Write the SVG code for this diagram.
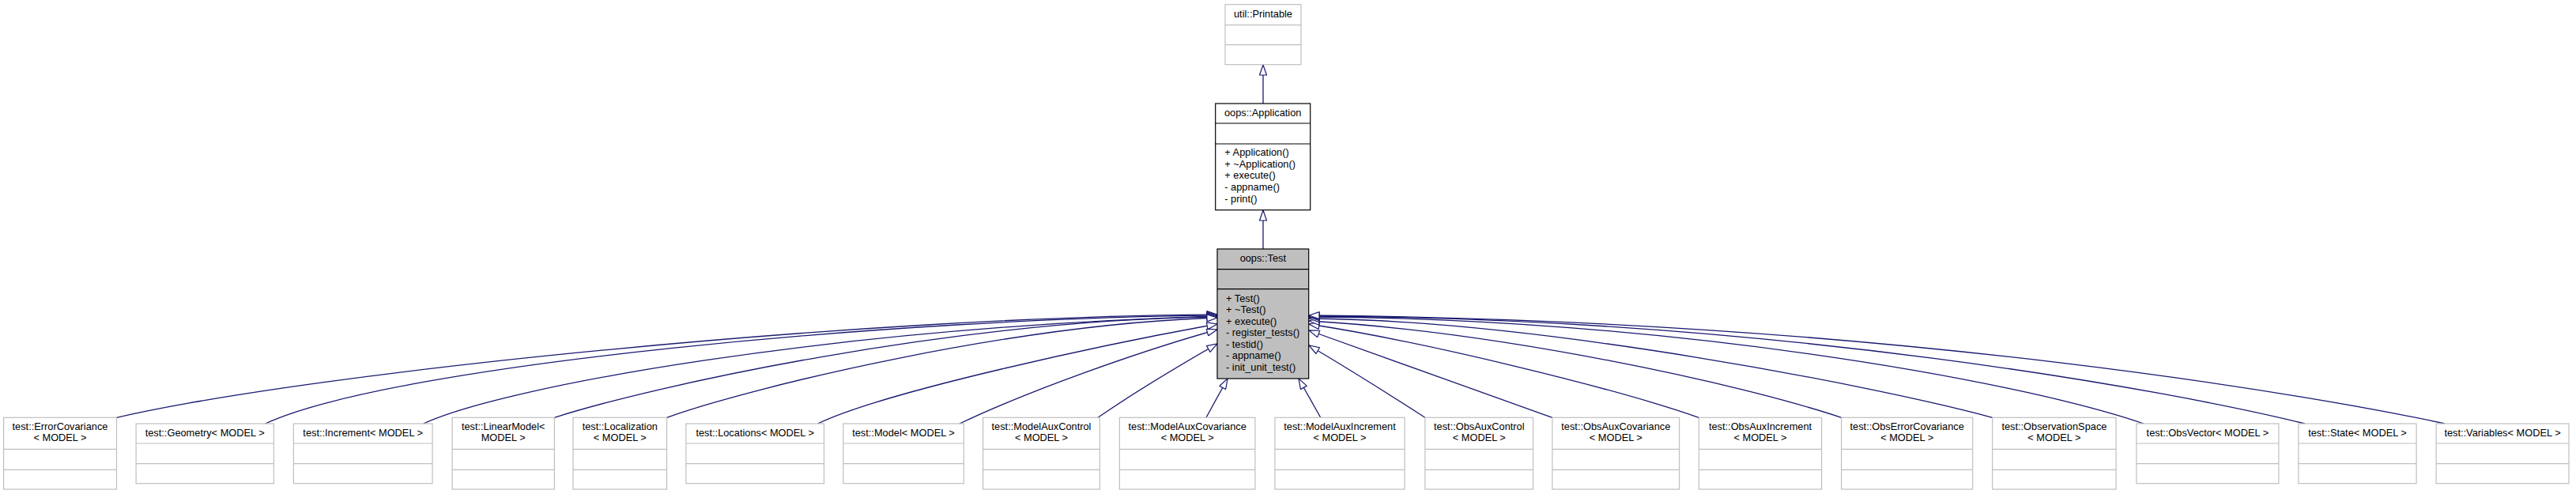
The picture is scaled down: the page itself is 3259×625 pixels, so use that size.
<svg xmlns="http://www.w3.org/2000/svg" width="3259" height="625" viewBox="0 0 3259 625">
<style>
text{font-family:"Liberation Sans",Arial,sans-serif;font-size:12.8px;fill:#000}
.t{text-anchor:middle}
.g{fill:#fff;stroke:#bfbfbf;stroke-width:1.2}
.gl{stroke:#bfbfbf;stroke-width:1.2}
.b{fill:#fff;stroke:#000;stroke-width:1.2}
.bl{stroke:#000;stroke-width:1.2}
.tst{fill:#bfbfbf;stroke:#000;stroke-width:1.2}
.e{fill:none;stroke:#191970;stroke-width:1.3;marker-end:url(#inh)}
</style>
<defs>
<marker id="inh" viewBox="0 0 15 10" refX="14" refY="5" markerWidth="15" markerHeight="10" markerUnits="userSpaceOnUse" orient="auto">
<path d="M1,0.5 L14,5 L1,9.5 Z" fill="#fff" stroke="#191970" stroke-width="1.2"/>
</marker>
</defs>
<rect x="0" y="0" width="3259" height="625" fill="#fff"/>

<g id="connectors">
<path class="e" d="M1598,131 L1598,82"/>
<path class="e" d="M1598,315 L1598,266"/>
<path class="e" d="M147.5,528.3 C400,470 1100,400 1540,398"/>
<path class="e" d="M335.7,536 C500,460 1150,402 1540,399"/>
<path class="e" d="M535.7,536 C640,488 1050,415 1540,400"/>
<path class="e" d="M701.4,528.3 C820,490 1200,405 1540,401"/>
<path class="e" d="M843.6,528.3 C950,490 1280,410 1540,402"/>
<path class="e" d="M1034.6,536 C1120,495 1400,435 1540,410"/>
<path class="e" d="M1214,536 C1300,495 1440,445 1540,417"/>
<path class="e" d="M1389,528.3 C1430,500 1500,458 1540,435"/>
<path class="e" d="M1526,528.3 L1553,479"/>
<path class="e" d="M1670.7,528.3 L1643,479"/>
<path class="e" d="M1802.9,528.3 C1770,507 1700,463 1656,437"/>
<path class="e" d="M1963.9,528.3 C1880,498 1730,445 1656,418"/>
<path class="e" d="M2149.3,528.3 C2040,490 1800,432 1656,410"/>
<path class="e" d="M2329.6,528.3 C2200,485 1900,420 1656,406"/>
<path class="e" d="M2520.7,528.3 C2380,490 1950,405 1656,403"/>
<path class="e" d="M2712,536 C2550,480 2100,402 1656,401"/>
<path class="e" d="M2916,536 C2750,495 2250,402 1656,400"/>
<path class="e" d="M3093,536 C2950,505 2400,405 1656,399"/>
</g>

<g id="util_Printable">
<rect class="g" x="1550" y="5.7" width="96" height="76"/>
<line class="gl" x1="1550" y1="31.7" x2="1646" y2="31.7"/>
<line class="gl" x1="1550" y1="56.7" x2="1646" y2="56.7"/>
<text class="t" x="1598" y="21.7">util::Printable</text>
</g>

<g id="oops_Application">
<rect class="b" x="1537.7" y="131" width="120" height="134.7"/>
<line class="bl" x1="1537.7" y1="156" x2="1657.7" y2="156"/>
<line class="bl" x1="1537.7" y1="182" x2="1657.7" y2="182"/>
<text class="t" x="1597.7" y="147">oops::Application</text>
<text x="1549.3" y="197">+ Application()</text>
<text x="1549.3" y="211.7">+ ~Application()</text>
<text x="1549.3" y="226.4">+ execute()</text>
<text x="1549.3" y="241.1">- appname()</text>
<text x="1549.3" y="255.8">- print()</text>
</g>

<g id="oops_Test">
<rect class="tst" x="1540" y="315" width="115.7" height="164"/>
<line class="bl" x1="1540" y1="340.7" x2="1655.7" y2="340.7"/>
<line class="bl" x1="1540" y1="365.7" x2="1655.7" y2="365.7"/>
<text class="t" x="1597.8" y="330.7">oops::Test</text>
<text x="1551" y="381.7">+ Test()</text>
<text x="1551" y="396.2">+ ~Test()</text>
<text x="1551" y="410.8">+ execute()</text>
<text x="1551" y="425.3">- register_tests()</text>
<text x="1551" y="439.9">- testid()</text>
<text x="1551" y="454.4">- appname()</text>
<text x="1551" y="469">- init_unit_test()</text>
</g>

<g id="ErrorCovariance">
<rect class="g" x="4.6" y="528.3" width="142.9" height="90.7"/>
<line class="gl" x1="4.6" y1="568.3" x2="147.5" y2="568.3"/>
<line class="gl" x1="4.6" y1="594.3" x2="147.5" y2="594.3"/>
<text class="t" x="76" y="544.2">test::ErrorCovariance</text>
<text class="t" x="76" y="558.4">&lt; MODEL &gt;</text>
</g>

<g id="Geometry">
<rect class="g" x="172.1" y="536" width="174.3" height="75.7"/>
<line class="gl" x1="172.1" y1="561" x2="346.4" y2="561"/>
<line class="gl" x1="172.1" y1="586.7" x2="346.4" y2="586.7"/>
<text class="t" x="259.2" y="551.7">test::Geometry&lt; MODEL &gt;</text>
</g>

<g id="Increment">
<rect class="g" x="371.4" y="536" width="175.7" height="75.7"/>
<line class="gl" x1="371.4" y1="561" x2="547.1" y2="561"/>
<line class="gl" x1="371.4" y1="586.7" x2="547.1" y2="586.7"/>
<text class="t" x="459.2" y="551.7">test::Increment&lt; MODEL &gt;</text>
</g>

<g id="LinearModel">
<rect class="g" x="572.1" y="528.3" width="129.3" height="90.7"/>
<line class="gl" x1="572.1" y1="568.3" x2="701.4" y2="568.3"/>
<line class="gl" x1="572.1" y1="594.3" x2="701.4" y2="594.3"/>
<text class="t" x="636.7" y="544.2">test::LinearModel&lt;</text>
<text class="t" x="636.7" y="558.4">MODEL &gt;</text>
</g>

<g id="Localization">
<rect class="g" x="725" y="528.3" width="118.6" height="90.7"/>
<line class="gl" x1="725" y1="568.3" x2="843.6" y2="568.3"/>
<line class="gl" x1="725" y1="594.3" x2="843.6" y2="594.3"/>
<text class="t" x="784.3" y="544.2">test::Localization</text>
<text class="t" x="784.3" y="558.4">&lt; MODEL &gt;</text>
</g>

<g id="Locations">
<rect class="g" x="867.9" y="536" width="174.6" height="75.7"/>
<line class="gl" x1="867.9" y1="561" x2="1042.5" y2="561"/>
<line class="gl" x1="867.9" y1="586.7" x2="1042.5" y2="586.7"/>
<text class="t" x="955.2" y="551.7">test::Locations&lt; MODEL &gt;</text>
</g>

<g id="Model">
<rect class="g" x="1066.8" y="536" width="152.5" height="75.7"/>
<line class="gl" x1="1066.8" y1="561" x2="1219.3" y2="561"/>
<line class="gl" x1="1066.8" y1="586.7" x2="1219.3" y2="586.7"/>
<text class="t" x="1143" y="551.7">test::Model&lt; MODEL &gt;</text>
</g>

<g id="ModelAuxControl">
<rect class="g" x="1243.6" y="528.3" width="147.8" height="90.7"/>
<line class="gl" x1="1243.6" y1="568.3" x2="1391.4" y2="568.3"/>
<line class="gl" x1="1243.6" y1="594.3" x2="1391.4" y2="594.3"/>
<text class="t" x="1317.5" y="544.2">test::ModelAuxControl</text>
<text class="t" x="1317.5" y="558.4">&lt; MODEL &gt;</text>
</g>

<g id="ModelAuxCovariance">
<rect class="g" x="1416.4" y="528.3" width="171.5" height="90.7"/>
<line class="gl" x1="1416.4" y1="568.3" x2="1587.9" y2="568.3"/>
<line class="gl" x1="1416.4" y1="594.3" x2="1587.9" y2="594.3"/>
<text class="t" x="1502.2" y="544.2">test::ModelAuxCovariance</text>
<text class="t" x="1502.2" y="558.4">&lt; MODEL &gt;</text>
</g>

<g id="ModelAuxIncrement">
<rect class="g" x="1612.9" y="528.3" width="164.2" height="90.7"/>
<line class="gl" x1="1612.9" y1="568.3" x2="1777.1" y2="568.3"/>
<line class="gl" x1="1612.9" y1="594.3" x2="1777.1" y2="594.3"/>
<text class="t" x="1695" y="544.2">test::ModelAuxIncrement</text>
<text class="t" x="1695" y="558.4">&lt; MODEL &gt;</text>
</g>

<g id="ObsAuxControl">
<rect class="g" x="1802.9" y="528.3" width="136.7" height="90.7"/>
<line class="gl" x1="1802.9" y1="568.3" x2="1939.6" y2="568.3"/>
<line class="gl" x1="1802.9" y1="594.3" x2="1939.6" y2="594.3"/>
<text class="t" x="1871.3" y="544.2">test::ObsAuxControl</text>
<text class="t" x="1871.3" y="558.4">&lt; MODEL &gt;</text>
</g>

<g id="ObsAuxCovariance">
<rect class="g" x="1963.9" y="528.3" width="160.7" height="90.7"/>
<line class="gl" x1="1963.9" y1="568.3" x2="2124.6" y2="568.3"/>
<line class="gl" x1="1963.9" y1="594.3" x2="2124.6" y2="594.3"/>
<text class="t" x="2044.3" y="544.2">test::ObsAuxCovariance</text>
<text class="t" x="2044.3" y="558.4">&lt; MODEL &gt;</text>
</g>

<g id="ObsAuxIncrement">
<rect class="g" x="2149.3" y="528.3" width="155.3" height="90.7"/>
<line class="gl" x1="2149.3" y1="568.3" x2="2304.6" y2="568.3"/>
<line class="gl" x1="2149.3" y1="594.3" x2="2304.6" y2="594.3"/>
<text class="t" x="2227" y="544.2">test::ObsAuxIncrement</text>
<text class="t" x="2227" y="558.4">&lt; MODEL &gt;</text>
</g>

<g id="ObsErrorCovariance">
<rect class="g" x="2329.6" y="528.3" width="166.1" height="90.7"/>
<line class="gl" x1="2329.6" y1="568.3" x2="2495.7" y2="568.3"/>
<line class="gl" x1="2329.6" y1="594.3" x2="2495.7" y2="594.3"/>
<text class="t" x="2412.7" y="544.2">test::ObsErrorCovariance</text>
<text class="t" x="2412.7" y="558.4">&lt; MODEL &gt;</text>
</g>

<g id="ObservationSpace">
<rect class="g" x="2520.7" y="528.3" width="156.4" height="90.7"/>
<line class="gl" x1="2520.7" y1="568.3" x2="2677.1" y2="568.3"/>
<line class="gl" x1="2520.7" y1="594.3" x2="2677.1" y2="594.3"/>
<text class="t" x="2598.9" y="544.2">test::ObservationSpace</text>
<text class="t" x="2598.9" y="558.4">&lt; MODEL &gt;</text>
</g>

<g id="ObsVector">
<rect class="g" x="2702.9" y="536" width="180" height="75.7"/>
<line class="gl" x1="2702.9" y1="561" x2="2882.9" y2="561"/>
<line class="gl" x1="2702.9" y1="586.7" x2="2882.9" y2="586.7"/>
<text class="t" x="2792.9" y="551.7">test::ObsVector&lt; MODEL &gt;</text>
</g>

<g id="State">
<rect class="g" x="2907.9" y="536" width="149.2" height="75.7"/>
<line class="gl" x1="2907.9" y1="561" x2="3057.1" y2="561"/>
<line class="gl" x1="2907.9" y1="586.7" x2="3057.1" y2="586.7"/>
<text class="t" x="2982.5" y="551.7">test::State&lt; MODEL &gt;</text>
</g>

<g id="Variables">
<rect class="g" x="3082.1" y="536" width="167.9" height="75.7"/>
<line class="gl" x1="3082.1" y1="561" x2="3250" y2="561"/>
<line class="gl" x1="3082.1" y1="586.7" x2="3250" y2="586.7"/>
<text class="t" x="3166" y="551.7">test::Variables&lt; MODEL &gt;</text>
</g>
</svg>
